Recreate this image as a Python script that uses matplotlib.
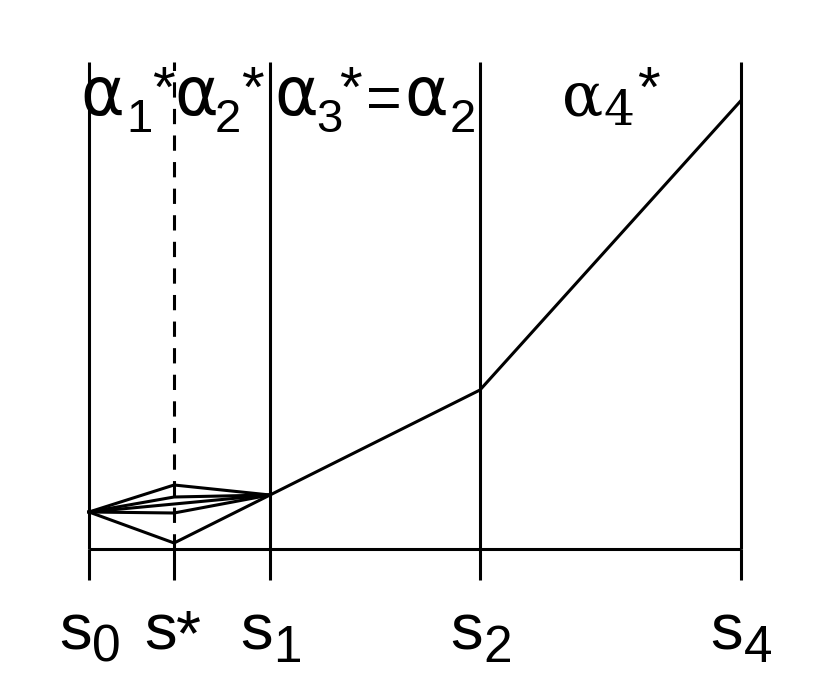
import matplotlib
matplotlib.use("Agg")
import matplotlib.pyplot as plt

plt.rcParams["font.family"] = ["Liberation Sans", "DejaVu Sans"]

# positions of the knots along s
knot_names = ["s0", "s*", "s1", "s2", "s4"]
knot_x = [0.0, 0.47, 1.0, 2.16, 3.6]
knot_marks = ["0", "*", "1", "2", "4"]

# main path s0 -> s1 -> s2 -> s4
main_x = [0.0, 1.0, 2.16, 3.6]
main_y = [0.37, 0.54, 1.59, 4.48]

# candidate values at s* (diamond between s0 and s1)
star_y = [0.64, 0.52, 0.36, 0.06]

top_y = 4.87

W, H = 830, 675
fig = plt.figure(figsize=(W / 100, H / 100), dpi=100)
ax = fig.add_axes([0, 0, 1, 1])
ax.set_xlim(-0.4917, 4.094)
ax.set_ylim(-1.26, 5.49)
ax.axis("off")

lw = 2.2
# baseline and ticks
ax.plot([knot_x[0], knot_x[-1]], [0, 0], color="black", lw=lw, solid_capstyle="butt")
for x in knot_x:
    ax.plot([x, x], [0, -0.31], color="black", lw=lw, solid_capstyle="butt")

# vertical boundaries
for name, x in zip(knot_names, knot_x):
    if name == "s*":
        ax.plot([x, x], [0, top_y], color="black", lw=lw, dashes=(5, 3.7))
    else:
        ax.plot([x, x], [0, top_y], color="black", lw=lw, solid_capstyle="butt")

# diamond paths through s*
for y in star_y:
    ax.plot([knot_x[0], knot_x[1], knot_x[2]], [main_y[0], y, main_y[1]],
            color="black", lw=lw)

ax.plot(main_x, main_y, color="black", lw=lw)


def put(xp, yp, s, size, family=None):
    # xp, yp in pixels from top-left; yp is the baseline
    kw = {}
    if family is not None:
        kw["family"] = family
    ax.text(xp / W, 1 - yp / H, s, fontsize=size, ha="left", va="baseline",
            transform=ax.transAxes, **kw)


# s labels under the ticks
for x, mark in zip(knot_x, knot_marks):
    xp = 89 + 181 * x
    put(xp - 30, 650, "s", 47)
    if mark == "*":
        put(xp + 2, 655, mark, 46)
    else:
        put(xp + 3, 662, mark, 37)

# segment labels at the top
alpha_font = ["DejaVu Sans"]
put(80, 115, "\u03b1", 48, alpha_font)
put(126, 132, "1", 34)
put(152, 107, "*", 42)

put(174, 115, "\u03b1", 48, alpha_font)
put(215, 132, "2", 34)
put(241, 107, "*", 42)

put(274, 115, "\u03b1", 48, alpha_font)
put(316, 132, "3", 34)
put(339, 107, "*", 42)
put(366, 118, "=", 44)
put(404, 115, "\u03b1", 48, alpha_font)
put(450, 132, "2", 34)

serif = ["DejaVu Serif", "Liberation Serif"]
put(562, 116, "\u03b1", 44, serif)
put(603, 125, "4", 35, serif)
put(637, 107, "*", 42)

fig.savefig("out.png", dpi=100)
